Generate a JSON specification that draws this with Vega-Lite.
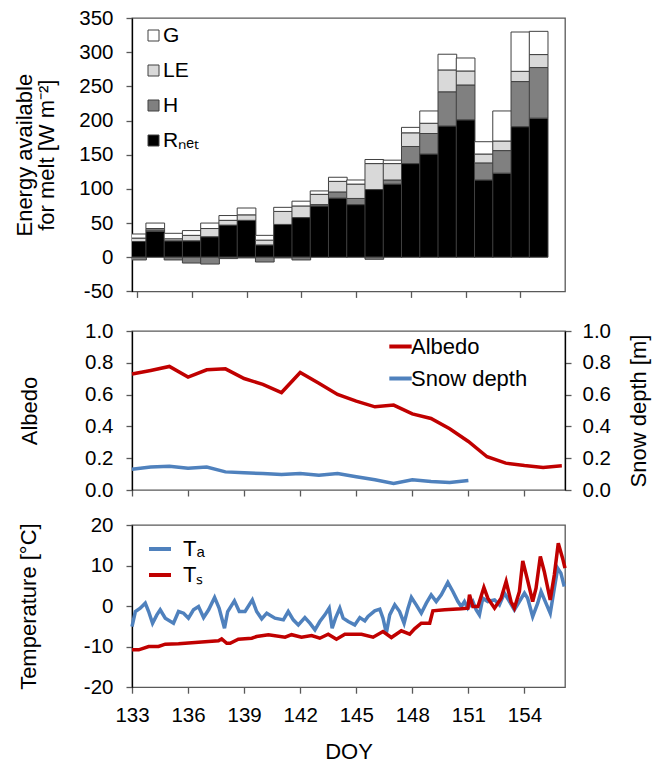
{
  "$schema": "https://vega.github.io/schema/vega-lite/v6.json",
  "padding": {"left": 13, "top": 7, "right": 5, "bottom": 5},
  "bounds": "flush",
  "spacing": 39,
  "datasets": {
    "energy": [
      {"doy":133,"comp":"Rnet","value":23},{"doy":133,"comp":"H","value":-4},{"doy":133,"comp":"LE","value":5},{"doy":133,"comp":"G","value":6},
      {"doy":134,"comp":"Rnet","value":38},{"doy":134,"comp":"H","value":2},{"doy":134,"comp":"LE","value":2},{"doy":134,"comp":"G","value":8},
      {"doy":135,"comp":"Rnet","value":24},{"doy":135,"comp":"H","value":-4},{"doy":135,"comp":"LE","value":3},{"doy":135,"comp":"G","value":8},
      {"doy":136,"comp":"Rnet","value":24},{"doy":136,"comp":"H","value":-8.5},{"doy":136,"comp":"LE","value":8},{"doy":136,"comp":"G","value":7},
      {"doy":137,"comp":"Rnet","value":30},{"doy":137,"comp":"H","value":-10},{"doy":137,"comp":"LE","value":12},{"doy":137,"comp":"G","value":8},
      {"doy":138,"comp":"Rnet","value":47},{"doy":138,"comp":"H","value":-2},{"doy":138,"comp":"LE","value":7},{"doy":138,"comp":"G","value":7},
      {"doy":139,"comp":"Rnet","value":54},{"doy":139,"comp":"H","value":-1},{"doy":139,"comp":"LE","value":8},{"doy":139,"comp":"G","value":10},
      {"doy":140,"comp":"Rnet","value":18},{"doy":140,"comp":"H","value":-7},{"doy":140,"comp":"LE","value":7},{"doy":140,"comp":"G","value":7},
      {"doy":141,"comp":"Rnet","value":48},{"doy":141,"comp":"H","value":-1},{"doy":141,"comp":"LE","value":19},{"doy":141,"comp":"G","value":6},
      {"doy":142,"comp":"Rnet","value":58},{"doy":142,"comp":"H","value":-4},{"doy":142,"comp":"LE","value":17},{"doy":142,"comp":"G","value":7},
      {"doy":143,"comp":"Rnet","value":75},{"doy":143,"comp":"H","value":2},{"doy":143,"comp":"LE","value":15},{"doy":143,"comp":"G","value":5},
      {"doy":144,"comp":"Rnet","value":86.5},{"doy":144,"comp":"H","value":9},{"doy":144,"comp":"LE","value":15.5},{"doy":144,"comp":"G","value":6},
      {"doy":145,"comp":"Rnet","value":77},{"doy":145,"comp":"H","value":9},{"doy":145,"comp":"LE","value":21},{"doy":145,"comp":"G","value":6},
      {"doy":146,"comp":"Rnet","value":99},{"doy":146,"comp":"H","value":-3},{"doy":146,"comp":"LE","value":38},{"doy":146,"comp":"G","value":6},
      {"doy":147,"comp":"Rnet","value":107},{"doy":147,"comp":"H","value":6},{"doy":147,"comp":"LE","value":24},{"doy":147,"comp":"G","value":5},
      {"doy":148,"comp":"Rnet","value":137},{"doy":148,"comp":"H","value":25},{"doy":148,"comp":"LE","value":20},{"doy":148,"comp":"G","value":8},
      {"doy":149,"comp":"Rnet","value":151},{"doy":149,"comp":"H","value":30},{"doy":149,"comp":"LE","value":15},{"doy":149,"comp":"G","value":18},
      {"doy":150,"comp":"Rnet","value":192},{"doy":150,"comp":"H","value":50},{"doy":150,"comp":"LE","value":32},{"doy":150,"comp":"G","value":23},
      {"doy":151,"comp":"Rnet","value":201},{"doy":151,"comp":"H","value":51},{"doy":151,"comp":"LE","value":20.5},{"doy":151,"comp":"G","value":19},
      {"doy":152,"comp":"Rnet","value":113},{"doy":152,"comp":"H","value":25},{"doy":152,"comp":"LE","value":13},{"doy":152,"comp":"G","value":18},
      {"doy":153,"comp":"Rnet","value":123},{"doy":153,"comp":"H","value":33},{"doy":153,"comp":"LE","value":14},{"doy":153,"comp":"G","value":44},
      {"doy":154,"comp":"Rnet","value":191},{"doy":154,"comp":"H","value":66},{"doy":154,"comp":"LE","value":15},{"doy":154,"comp":"G","value":57.5},
      {"doy":155,"comp":"Rnet","value":203.5},{"doy":155,"comp":"H","value":74},{"doy":155,"comp":"LE","value":19},{"doy":155,"comp":"G","value":34}
    ],
    "albedo": [
      {"doy":133,"series":"Albedo","value":0.729},{"doy":134,"series":"Albedo","value":0.752},{"doy":135,"series":"Albedo","value":0.777},
      {"doy":136,"series":"Albedo","value":0.710},{"doy":137,"series":"Albedo","value":0.756},{"doy":138,"series":"Albedo","value":0.762},
      {"doy":139,"series":"Albedo","value":0.701},{"doy":140,"series":"Albedo","value":0.664},{"doy":141,"series":"Albedo","value":0.613},
      {"doy":142,"series":"Albedo","value":0.739},{"doy":143,"series":"Albedo","value":0.672},{"doy":144,"series":"Albedo","value":0.601},
      {"doy":145,"series":"Albedo","value":0.559},{"doy":146,"series":"Albedo","value":0.523},{"doy":147,"series":"Albedo","value":0.534},
      {"doy":148,"series":"Albedo","value":0.479},{"doy":149,"series":"Albedo","value":0.450},{"doy":150,"series":"Albedo","value":0.385},
      {"doy":151,"series":"Albedo","value":0.305},{"doy":152,"series":"Albedo","value":0.209},{"doy":153,"series":"Albedo","value":0.169},
      {"doy":154,"series":"Albedo","value":0.154},{"doy":155,"series":"Albedo","value":0.142},{"doy":156,"series":"Albedo","value":0.152},
      {"doy":133,"series":"Snow depth","value":0.131},{"doy":134,"series":"Snow depth","value":0.144},{"doy":135,"series":"Snow depth","value":0.150},
      {"doy":136,"series":"Snow depth","value":0.137},{"doy":137,"series":"Snow depth","value":0.144},{"doy":138,"series":"Snow depth","value":0.114},
      {"doy":139,"series":"Snow depth","value":0.108},{"doy":140,"series":"Snow depth","value":0.104},{"doy":141,"series":"Snow depth","value":0.097},
      {"doy":142,"series":"Snow depth","value":0.104},{"doy":143,"series":"Snow depth","value":0.093},{"doy":144,"series":"Snow depth","value":0.104},
      {"doy":145,"series":"Snow depth","value":0.083},{"doy":146,"series":"Snow depth","value":0.064},{"doy":147,"series":"Snow depth","value":0.041},
      {"doy":148,"series":"Snow depth","value":0.064},{"doy":149,"series":"Snow depth","value":0.053},{"doy":150,"series":"Snow depth","value":0.047},
      {"doy":151,"series":"Snow depth","value":0.060}
    ],
    "temp": [
      {"doy":133.00,"series":"Ta","value":-5.04},{"doy":133.18,"series":"Ta","value":-1.34},{"doy":133.44,"series":"Ta","value":-0.51},
      {"doy":133.71,"series":"Ta","value":0.72},{"doy":133.89,"series":"Ta","value":-1.34},{"doy":134.10,"series":"Ta","value":-4.22},
      {"doy":134.33,"series":"Ta","value":-2.16},{"doy":134.51,"series":"Ta","value":-0.92},{"doy":134.78,"series":"Ta","value":-2.98},
      {"doy":135.22,"series":"Ta","value":-4.22},{"doy":135.49,"series":"Ta","value":-1.34},{"doy":135.76,"series":"Ta","value":-1.75},
      {"doy":136.02,"series":"Ta","value":-2.98},{"doy":136.29,"series":"Ta","value":-0.92},{"doy":136.56,"series":"Ta","value":-0.10},
      {"doy":136.83,"series":"Ta","value":-2.82},{"doy":137.10,"series":"Ta","value":-0.92},{"doy":137.42,"series":"Ta","value":2.14},
      {"doy":137.66,"series":"Ta","value":-0.51},{"doy":137.95,"series":"Ta","value":-5.45},{"doy":138.12,"series":"Ta","value":-1.34},
      {"doy":138.48,"series":"Ta","value":1.30},{"doy":138.74,"series":"Ta","value":-1.34},{"doy":139.05,"series":"Ta","value":-1.34},
      {"doy":139.44,"series":"Ta","value":1.54},{"doy":139.67,"series":"Ta","value":-1.34},{"doy":139.94,"series":"Ta","value":-3.14},
      {"doy":140.21,"series":"Ta","value":-1.75},{"doy":140.65,"series":"Ta","value":-2.98},{"doy":141.10,"series":"Ta","value":-3.39},
      {"doy":141.36,"series":"Ta","value":-1.34},{"doy":141.63,"series":"Ta","value":-3.39},{"doy":141.90,"series":"Ta","value":-4.63},
      {"doy":142.25,"series":"Ta","value":-2.82},{"doy":142.52,"series":"Ta","value":-4.22},{"doy":142.79,"series":"Ta","value":-5.86},
      {"doy":143.05,"series":"Ta","value":-3.80},{"doy":143.32,"series":"Ta","value":-2.16},{"doy":143.55,"series":"Ta","value":-0.51},
      {"doy":143.71,"series":"Ta","value":-5.45},{"doy":143.89,"series":"Ta","value":-2.98},{"doy":144.12,"series":"Ta","value":-0.51},
      {"doy":144.30,"series":"Ta","value":-2.98},{"doy":144.57,"series":"Ta","value":-3.80},{"doy":144.92,"series":"Ta","value":-4.63},
      {"doy":145.19,"series":"Ta","value":-2.82},{"doy":145.46,"series":"Ta","value":-3.64},{"doy":145.63,"series":"Ta","value":-2.57},
      {"doy":145.99,"series":"Ta","value":-1.17},{"doy":146.26,"series":"Ta","value":-0.76},{"doy":146.43,"series":"Ta","value":-2.98},
      {"doy":146.61,"series":"Ta","value":-6.68},{"doy":146.79,"series":"Ta","value":-2.16},{"doy":147.06,"series":"Ta","value":0.31},
      {"doy":147.32,"series":"Ta","value":-1.34},{"doy":147.56,"series":"Ta","value":-4.22},{"doy":147.77,"series":"Ta","value":-0.51},
      {"doy":147.95,"series":"Ta","value":2.14},{"doy":148.21,"series":"Ta","value":0.31},{"doy":148.48,"series":"Ta","value":-1.75},
      {"doy":148.75,"series":"Ta","value":0.72},{"doy":149.01,"series":"Ta","value":2.78},{"doy":149.28,"series":"Ta","value":1.13},
      {"doy":149.55,"series":"Ta","value":2.78},{"doy":149.90,"series":"Ta","value":5.82},{"doy":150.17,"series":"Ta","value":3.60},
      {"doy":150.44,"series":"Ta","value":1.13},{"doy":150.62,"series":"Ta","value":-0.10},{"doy":150.79,"series":"Ta","value":1.13},
      {"doy":150.97,"series":"Ta","value":-0.51},{"doy":151.24,"series":"Ta","value":1.13},{"doy":151.42,"series":"Ta","value":-0.92},
      {"doy":151.59,"series":"Ta","value":-2.16},{"doy":151.77,"series":"Ta","value":1.95},{"doy":152.04,"series":"Ta","value":1.13},
      {"doy":152.40,"series":"Ta","value":1.54},{"doy":152.66,"series":"Ta","value":0.31},{"doy":152.93,"series":"Ta","value":3.19},
      {"doy":153.20,"series":"Ta","value":1.13},{"doy":153.46,"series":"Ta","value":-0.92},{"doy":153.73,"series":"Ta","value":1.13},
      {"doy":154.00,"series":"Ta","value":3.19},{"doy":154.17,"series":"Ta","value":1.95},{"doy":154.44,"series":"Ta","value":-2.57},
      {"doy":154.71,"series":"Ta","value":0.72},{"doy":154.89,"series":"Ta","value":3.60},{"doy":155.15,"series":"Ta","value":0.72},
      {"doy":155.38,"series":"Ta","value":-1.75},{"doy":155.60,"series":"Ta","value":4.42},{"doy":155.78,"series":"Ta","value":9.35},
      {"doy":155.95,"series":"Ta","value":8.12},{"doy":156.13,"series":"Ta","value":4.83},
      {"doy":133.00,"series":"Ts","value":-10.79},{"doy":133.36,"series":"Ts","value":-10.79},{"doy":133.89,"series":"Ts","value":-9.97},
      {"doy":134.42,"series":"Ts","value":-9.97},{"doy":134.78,"series":"Ts","value":-9.40},{"doy":135.49,"series":"Ts","value":-9.31},
      {"doy":136.38,"series":"Ts","value":-8.98},{"doy":137.09,"series":"Ts","value":-8.74},{"doy":137.63,"series":"Ts","value":-8.57},
      {"doy":137.80,"series":"Ts","value":-8.08},{"doy":138.07,"series":"Ts","value":-9.15},{"doy":138.25,"series":"Ts","value":-9.15},
      {"doy":138.69,"series":"Ts","value":-8.16},{"doy":139.41,"series":"Ts","value":-7.92},{"doy":139.67,"series":"Ts","value":-7.51},
      {"doy":140.30,"series":"Ts","value":-7.05},{"doy":141.19,"series":"Ts","value":-7.66},{"doy":141.54,"series":"Ts","value":-7.05},
      {"doy":142.07,"series":"Ts","value":-7.66},{"doy":142.61,"series":"Ts","value":-7.25},{"doy":143.05,"series":"Ts","value":-7.92},
      {"doy":143.50,"series":"Ts","value":-6.93},{"doy":143.94,"series":"Ts","value":-8.16},{"doy":144.39,"series":"Ts","value":-6.93},
      {"doy":145.28,"series":"Ts","value":-6.93},{"doy":145.90,"series":"Ts","value":-7.66},{"doy":146.43,"series":"Ts","value":-6.27},
      {"doy":146.88,"series":"Ts","value":-7.75},{"doy":147.41,"series":"Ts","value":-6.10},{"doy":147.86,"series":"Ts","value":-6.93},
      {"doy":148.12,"series":"Ts","value":-5.61},{"doy":148.48,"series":"Ts","value":-4.21},{"doy":148.93,"series":"Ts","value":-4.21},
      {"doy":149.10,"series":"Ts","value":-1.17},{"doy":149.73,"series":"Ts","value":-0.92},{"doy":150.62,"series":"Ts","value":-0.68},
      {"doy":150.97,"series":"Ts","value":-0.51},{"doy":151.06,"series":"Ts","value":2.78},{"doy":151.24,"series":"Ts","value":-0.10},
      {"doy":151.51,"series":"Ts","value":-0.10},{"doy":151.83,"series":"Ts","value":4.58},{"doy":152.04,"series":"Ts","value":1.95},
      {"doy":152.40,"series":"Ts","value":-0.51},{"doy":152.75,"series":"Ts","value":1.95},{"doy":153.02,"series":"Ts","value":6.07},
      {"doy":153.28,"series":"Ts","value":1.13},{"doy":153.46,"series":"Ts","value":-0.51},{"doy":153.73,"series":"Ts","value":3.60},
      {"doy":153.91,"series":"Ts","value":11.16},{"doy":154.14,"series":"Ts","value":6.89},{"doy":154.44,"series":"Ts","value":1.13},
      {"doy":154.62,"series":"Ts","value":4.42},{"doy":154.85,"series":"Ts","value":12.23},{"doy":155.06,"series":"Ts","value":8.53},
      {"doy":155.38,"series":"Ts","value":1.54},{"doy":155.60,"series":"Ts","value":7.71},{"doy":155.81,"series":"Ts","value":15.52},
      {"doy":156.04,"series":"Ts","value":11.82},{"doy":156.17,"series":"Ts","value":9.35}
    ]
  },
  "vconcat": [
    {
      "width": 433,
      "height": 273.4,
      "data": {"name": "energy"},
      "transform": [{"calculate": "indexof(['Rnet','H','LE','G'], datum.comp)", "as": "ord"}],
      "mark": {"type": "bar", "width": 18.7, "clip": true, "stroke": "#404040", "strokeWidth": 1},
      "encoding": {
        "x": {"field": "doy", "type": "quantitative",
              "scale": {"domain": [133, 156.17], "nice": false, "zero": false},
              "axis": {"values": [133,136,139,142,145,148,151,154], "labels": false, "title": null, "domain": false}},
        "y": {"field": "value", "type": "quantitative", "stack": "zero",
              "scale": {"domain": [-50, 350], "nice": false},
              "axis": {"values": [-50,0,50,100,150,200,250,300,350], "title": ["Energy available", "for melt [W m⁻²]"], "titlePadding": 20, "titleLineHeight": 22, "titleFontSize": 22}},
        "color": {"field": "comp", "type": "nominal",
                  "scale": {"domain": ["G","LE","H","Rnet"], "range": ["#ffffff","#d9d9d9","#808080","#000000"]},
                  "legend": {"orient": "none", "legendX": 11, "legendY": 7, "title": null, "labelFontSize": 21,
                             "symbolType": "square", "symbolSize": 121, "symbolStrokeColor": "#404040", "symbolStrokeWidth": 1,
                             "rowPadding": 13, "labelOffset": -1, "padding": 0,
                             "labelExpr": "datum.label == 'Rnet' ? 'Rₙₑₜ' : datum.label"}},
        "order": {"field": "ord", "type": "quantitative"}
      }
    },
    {
      "bounds": "flush",
      "spacing": 35,
      "vconcat": [
        {
          "width": 433,
          "height": 159,
          "data": {"name": "albedo"},
          "layer": [
            {
              "transform": [{"filter": "datum.series == 'Albedo'"}],
              "mark": {"type": "line", "strokeWidth": 3.5},
              "encoding": {
                "x": {"field": "doy", "type": "quantitative",
                      "scale": {"domain": [133, 156.17], "nice": false, "zero": false},
                      "axis": {"values": [133,136,139,142,145,148,151,154], "labels": false, "title": null, "domain": false}},
                "y": {"field": "value", "type": "quantitative", "scale": {"domain": [0, 1], "nice": false},
                      "axis": {"values": [0,0.2,0.4,0.6,0.8,1], "format": ".1f", "title": "Albedo", "titlePadding": 43, "titleFontSize": 22}},
                "color": {"field": "series", "type": "nominal",
                          "scale": {"domain": ["Albedo","Snow depth"], "range": ["#c00000","#4f81bd"]},
                          "legend": {"orient": "none", "legendX": 255, "legendY": 2, "title": null, "labelFontSize": 22,
                                     "symbolType": "stroke", "symbolSize": 500, "symbolStrokeWidth": 4,
                                     "rowPadding": 7, "labelOffset": -3, "padding": 0}}
              }
            },
            {
              "transform": [{"filter": "datum.series == 'Snow depth'"}],
              "mark": {"type": "line", "strokeWidth": 3.5},
              "encoding": {
                "x": {"field": "doy", "type": "quantitative",
                      "scale": {"domain": [133, 156.17], "nice": false, "zero": false}},
                "y": {"field": "value", "type": "quantitative", "scale": {"domain": [0, 1], "nice": false},
                      "axis": {"orient": "right", "values": [0,0.2,0.4,0.6,0.8,1], "format": ".1f", "title": "Snow depth [m]",
                               "titleAngle": -90, "titleBaseline": "top", "titlePadding": 18, "labelPadding": 11, "titleFontSize": 22}},
                "color": {"field": "series", "type": "nominal"}
              }
            }
          ],
          "resolve": {"scale": {"y": "independent"}, "axis": {"y": "independent"}}
        },
        {
          "width": 433,
          "height": 162.2,
          "data": {"name": "temp"},
          "mark": {"type": "line", "strokeWidth": 3.5},
          "encoding": {
            "x": {"field": "doy", "type": "quantitative",
                  "scale": {"domain": [133, 156.17], "nice": false, "zero": false},
                  "axis": {"values": [133,136,139,142,145,148,151,154], "title": "DOY", "labelFlush": false, "labelPadding": 12, "titlePadding": 16, "domain": false, "titleFontSize": 22}},
            "y": {"field": "value", "type": "quantitative", "scale": {"domain": [-20, 20], "nice": false},
                  "axis": {"values": [-20,-10,0,10,20], "title": "Temperature [°C]", "titlePadding": 43, "titleFontSize": 22}},
            "color": {"field": "series", "type": "nominal",
                      "scale": {"domain": ["Ta","Ts"], "range": ["#4f81bd","#c00000"]},
                      "legend": {"orient": "none", "legendX": 15, "legendY": 11, "title": null, "labelFontSize": 22,
                                 "symbolType": "stroke", "symbolSize": 484, "symbolStrokeWidth": 4,
                                 "rowPadding": 2, "labelOffset": 10, "padding": 0,
                                 "labelExpr": "datum.label == 'Ta' ? 'Tₐ' : 'Tₛ'"}}
          }
        }
      ],
      "resolve": {"scale": {"color": "independent"}, "legend": {"color": "independent"}}
    }
  ],
  "resolve": {"scale": {"color": "independent"}, "legend": {"color": "independent"}},
  "config": {
    "font": "Liberation Sans",
    "view": {"stroke": "#595959", "strokeWidth": 1.3},
    "axis": {"labelFontSize": 20.5, "titleFontSize": 21, "titleFontWeight": "normal", "labelColor": "#000000", "titleColor": "#000000",
             "domainColor": "#000000", "domainWidth": 1.3, "tickColor": "#595959", "tickWidth": 1.3, "tickSize": 6, "grid": false, "labelPadding": 13, "labelFlush": false,
             "labelExpr": "replace(datum.label, '−', '-')"},
    "legend": {"labelColor": "#000000", "labelFont": "Liberation Sans"}
  }
}
